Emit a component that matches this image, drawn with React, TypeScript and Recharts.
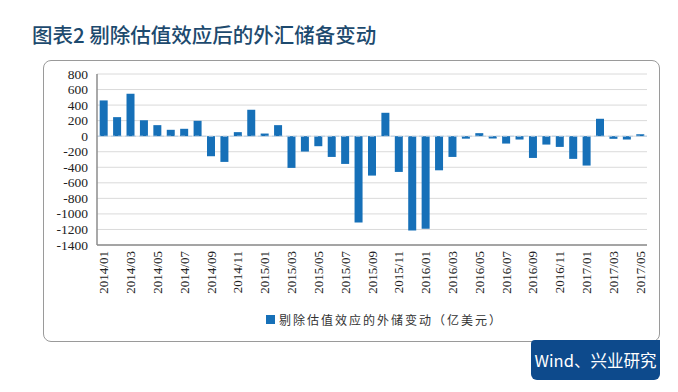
import React from 'react';
import { BarChart, Bar, XAxis, YAxis, CartesianGrid, ReferenceLine } from 'recharts';

const months: string[] = [
  '2014/01','2014/02','2014/03','2014/04','2014/05','2014/06','2014/07','2014/08','2014/09','2014/10','2014/11','2014/12',
  '2015/01','2015/02','2015/03','2015/04','2015/05','2015/06','2015/07','2015/08','2015/09','2015/10','2015/11','2015/12',
  '2016/01','2016/02','2016/03','2016/04','2016/05','2016/06','2016/07','2016/08','2016/09','2016/10','2016/11','2016/12',
  '2017/01','2017/02','2017/03','2017/04','2017/05',
];

const reserveChange: number[] = [
  460, 245, 545, 205, 142, 82, 95, 198, -258, -331, 52, 340,
  34, 142, -408, -198, -129, -267, -357, -1110, -507, 301, -460, -1213,
  -1191, -439, -267, -32, 39, -30, -95, -43, -280, -108, -138, -292,
  -378, 224, -34, -43, 25,
];

const yTicks: number[] = [800, 600, 400, 200, 0, -200, -400, -600, -800, -1000, -1200, -1400];

const seriesName = '剔除估值效应的外储变动（亿美元）';
const titleText = '图表2 剔除估值效应后的外汇储备变动';
const sourceText = 'Wind、兴业研究';

const data = months.map((m, i) => ({ month: m, value: reserveChange[i] }));

const serif = '"Liberation Serif", "DejaVu Serif", serif';
const cjk = '"Noto Sans CJK SC", "Noto Sans", sans-serif';
const barColor = '#1670b8';

const XTick = (props: any) => {
  const { x, y, payload } = props;
  return (
    <text
      x={x}
      y={y}
      transform={`rotate(-90, ${x}, ${y})`}
      textAnchor="end"
      dominantBaseline="central"
      style={{ fontFamily: serif, fontSize: 13 }}
      fill="#222"
    >
      {payload.value}
    </text>
  );
};

const YTick = (props: any) => {
  const { x, y, payload } = props;
  return (
    <text
      x={x}
      y={y}
      textAnchor="end"
      dominantBaseline="central"
      style={{ fontFamily: serif, fontSize: 13.5 }}
      fill="#222"
    >
      {payload.value}
    </text>
  );
};

export default function App() {
  return (
    <div style={{ position: 'fixed', left: 0, top: 0, width: 678, height: 392, background: '#fff', overflow: 'hidden' }}>
      <div
        style={{
          position: 'absolute', left: 32, top: 21, fontFamily: cjk, fontSize: 20.5, color: '#1d4a6e',
          whiteSpace: 'nowrap', lineHeight: '26px', fontWeight: 500,
        }}
      >
        {titleText}
      </div>
      <div
        style={{
          position: 'absolute', left: 43, top: 60, width: 617, height: 282, boxSizing: 'border-box',
          border: '1.5px solid #9a9a9a', borderRadius: 8, background: '#fff',
        }}
      />
      <div style={{ position: 'absolute', left: 0, top: 0 }}>
        <BarChart
          width={678}
          height={392}
          data={data}
          margin={{ top: 74, right: 31, bottom: 87, left: 47 }}
          barCategoryGap="20%"
        >
          <CartesianGrid horizontal vertical={false} stroke="#dadada" strokeWidth={1} />
          <XAxis
            dataKey="month"
            interval={1}
            tickLine={false}
            axisLine={{ stroke: '#8c8c8c', strokeWidth: 1.5 }}
            height={60}
            tick={<XTick />}
            tickSize={0}
            tickMargin={6}
          />
          <XAxis xAxisId="top" orientation="top" dataKey="month" height={0} tick={false} tickLine={false}
            axisLine={{ stroke: '#8c8c8c', strokeWidth: 1.5 }} />
          <YAxis
            domain={[-1400, 800]}
            ticks={yTicks}
            interval={0}
            width={50}
            tickLine={false}
            tickSize={0}
            tickMargin={9}
            axisLine={{ stroke: '#8c8c8c', strokeWidth: 1.5 }}
            tick={<YTick />}
          />
          <YAxis yAxisId="right" orientation="right" domain={[-1400, 800]} width={0} tick={false} tickLine={false}
            axisLine={{ stroke: '#8c8c8c', strokeWidth: 1.5 }} />
          <Bar dataKey="value" fill={barColor} isAnimationActive={false} name={seriesName} />
          <ReferenceLine y={0} stroke="#b8d0e6" strokeDasharray="4 3" strokeWidth={1} />
        </BarChart>
      </div>
      <div
        style={{
          position: 'absolute', left: 266, top: 311, display: 'flex', alignItems: 'center',
          fontFamily: cjk, fontSize: 12, color: '#333', letterSpacing: 2, whiteSpace: 'nowrap',
        }}
      >
        <span style={{ display: 'inline-block', width: 9, height: 9, background: barColor, marginRight: 4 }} />
        <span>{seriesName}</span>
      </div>
      <div
        style={{
          position: 'absolute', left: 531, top: 340, width: 129, height: 40, background: '#0d4a8c',
          borderRadius: '4px 0 6px 6px', color: '#fff', fontFamily: cjk, fontSize: 16.5,
          display: 'flex', alignItems: 'center', justifyContent: 'center', whiteSpace: 'nowrap',
        }}
      >
        {sourceText}
      </div>
    </div>
  );
}
